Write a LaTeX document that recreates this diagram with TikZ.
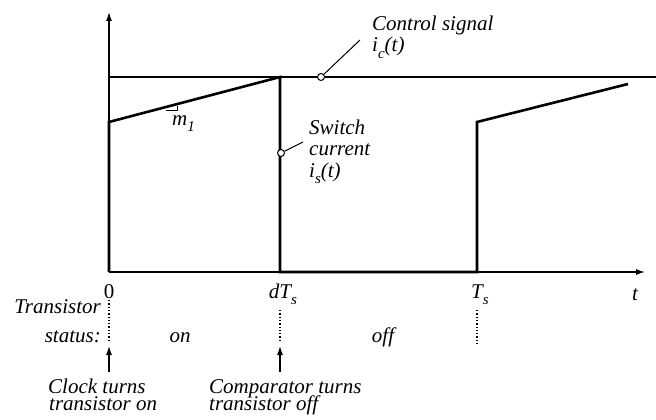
\documentclass[tikz,border=0pt]{standalone}
\usepackage{fontspec}
\setmainfont{Liberation Serif}
\usetikzlibrary{arrows.meta}
\newcommand{\lowsub}[1]{\raisebox{-0.32em}{\fontsize{15}{15}\selectfont #1}}
\begin{document}
\begin{tikzpicture}[x=1pt,y=-1pt,
  lbl/.style={font=\fontsize{21}{23}\selectfont\itshape, inner sep=0pt},
  tight/.style={font={\fontsize{21}{17}\selectfont\itshape\lineskiplimit=-100pt\lineskip=0pt}, inner sep=0pt, align=left},
  axis/.style={line width=1.2pt, -{Latex[length=9pt,width=6pt]}},
  wave/.style={line width=2.6pt, line join=miter},
  ctrl/.style={line width=2pt},
  leader/.style={line width=1pt},
  probe/.style={circle, draw, line width=1pt, fill=white, minimum size=7pt, inner sep=0pt},
  dots/.style={dotted, line width=1.3pt},
  up/.style={line width=1.1pt, -{Latex[length=9pt,width=6pt]}}]
\useasboundingbox (0,0) rectangle (656,420);
% axes
\coordinate (O) at (109,272);
\coordinate (ytop) at (109,12);
\coordinate (xend) at (645,272);
\draw[axis] (O) -- (ytop);
\draw[axis] (O) -- (xend);
% control signal
\coordinate (c0) at (109,77);
\coordinate (c1) at (656,77);
\draw[ctrl] (c0) -- (c1);
% switch current
\coordinate (s0) at (109,272);
\coordinate (s1) at (109,122);
\coordinate (s2) at (280,77);
\coordinate (s3) at (280,272);
\coordinate (s4) at (477,272);
\coordinate (s5) at (477,122);
\coordinate (s6) at (628,84);
\draw[wave] (s0) -- (s1) -- (s2) -- (s3) -- (s4) -- (s5) -- (s6);
% slope marker
\coordinate (m0) at (166,110);
\coordinate (m1) at (177,110);
\coordinate (m2) at (177,106);
\draw[line width=0.8pt] (m0) -- (m1) -- (m2);
\node[lbl, anchor=base west] (mlab) at (172,125) {m\lowsub{1}};
% markers and leaders
\node[probe] (mk1) at (321,77) {};
\coordinate (l1) at (360,40);
\draw[leader] (mk1) -- (l1);
\node[lbl, anchor=base west] (ctl) at (372,31) {Control signal};
\node[lbl, anchor=base west] (ic) at (372,52) {i\lowsub{c}(t)};
\node[probe] (mk2) at (281,153) {};
\coordinate (l2) at (303,142);
\draw[leader] (mk2) -- (l2);
\node[lbl, anchor=base west] (sw1) at (309,134) {Switch};
\node[lbl, anchor=base west] (sw2) at (309,155) {current};
\node[lbl, anchor=base west] (sw3) at (309,177) {i\lowsub{s}(t)};
% tick labels
\node[lbl, font=\fontsize{21}{23}\selectfont, anchor=base] (t0) at (109,298) {0};
\node[lbl, anchor=base] (tdT) at (283,298) {dT\lowsub{s}};
\node[lbl, anchor=base] (tT) at (480,298) {T\lowsub{s}};
\node[lbl, anchor=base] (tt) at (635,300) {t};
% dotted lines
\coordinate (d0a) at (109,300); \coordinate (d0b) at (109,340);
\coordinate (d1a) at (280,310); \coordinate (d1b) at (280,340);
\coordinate (d2a) at (477,310); \coordinate (d2b) at (477,345);
\draw[dots] (d0a) -- (d0b);
\draw[dots] (d1a) -- (d1b);
\draw[dots] (d2a) -- (d2b);
% status labels
\node[lbl, anchor=base east] (ts1) at (101,313) {Transistor};
\node[lbl, anchor=base east] (ts2) at (101,342) {status:};
\node[lbl, anchor=base] (on) at (180,342) {on};
\node[lbl, anchor=base] (off) at (383,342) {off};
% arrows
\coordinate (a0) at (109,372); \coordinate (a0t) at (109,346);
\coordinate (a1) at (280,372); \coordinate (a1t) at (280,346);
\draw[up] (a0) -- (a0t);
\draw[up] (a1) -- (a1t);
\node[tight, anchor=base west] (clk) at (48,410) {Clock turns\\\hspace*{1pt}transistor on};
\node[tight, anchor=base west] (cmp) at (209,410) {Comparator turns\\transistor off};
\end{tikzpicture}
\end{document}
